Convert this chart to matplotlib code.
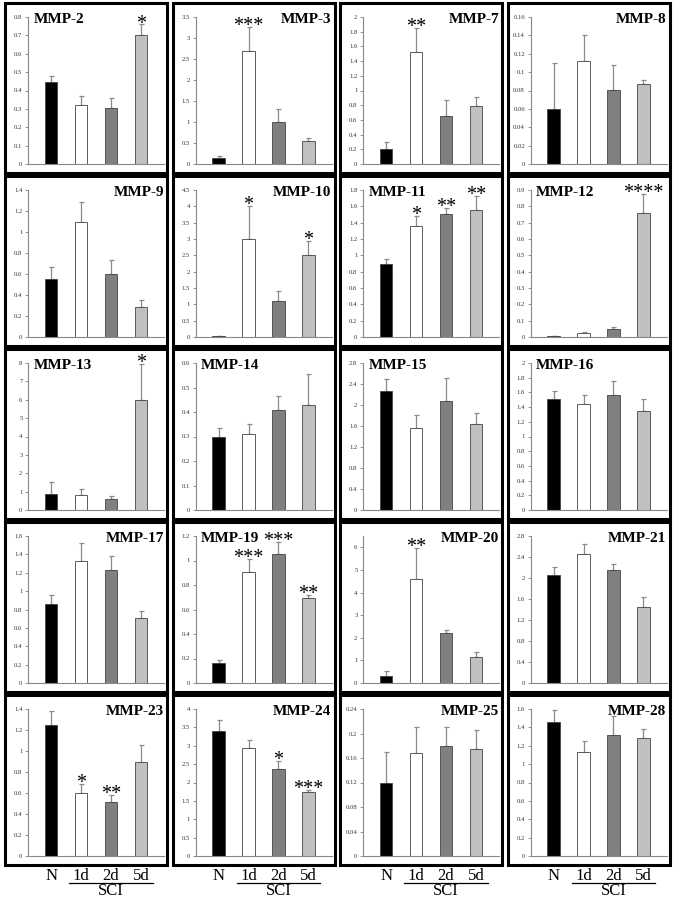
import numpy as np
import matplotlib
matplotlib.use('Agg')
from matplotlib import pyplot as plt
from matplotlib import transforms
from matplotlib.patches import Rectangle
from matplotlib.ticker import MultipleLocator, FuncFormatter

plt.rcParams['font.family'] = ['Liberation Serif', 'DejaVu Serif']

groups = ['N', '1d', '2d', '5d']
bar_colors = ['black', 'white', '#808080', '#c0c0c0']

names = ['MMP-2', 'MMP-3', 'MMP-7', 'MMP-8',
         'MMP-9', 'MMP-10', 'MMP-11', 'MMP-12',
         'MMP-13', 'MMP-14', 'MMP-15', 'MMP-16',
         'MMP-17', 'MMP-19', 'MMP-20', 'MMP-21',
         'MMP-23', 'MMP-24', 'MMP-25', 'MMP-28']

title_left = [True, False, False, False,
              False, False, True, True,
              True, True, True, True,
              False, True, False, False,
              False, False, False, False]

y_max = [0.8, 3.5, 2, 0.16,
         1.4, 4.5, 1.8, 0.9,
         8, 0.6, 2.8, 2,
         1.6, 1.2, 6.5, 2.8,
         1.4, 4, 0.24, 1.6]

y_step = [0.1, 0.5, 0.2, 0.02,
          0.2, 0.5, 0.2, 0.1,
          1, 0.1, 0.4, 0.2,
          0.2, 0.2, 1, 0.4,
          0.2, 0.5, 0.04, 0.2]

means = [[0.445, 0.32, 0.305, 0.70],
         [0.15, 2.70, 1.00, 0.55],
         [0.21, 1.52, 0.65, 0.79],
         [0.060, 0.112, 0.081, 0.087],
         [0.55, 1.10, 0.60, 0.29],
         [0.03, 3.00, 1.10, 2.50],
         [0.90, 1.36, 1.51, 1.56],
         [0.005, 0.025, 0.05, 0.76],
         [0.85, 0.82, 0.58, 6.00],
         [0.30, 0.31, 0.41, 0.43],
         [2.27, 1.56, 2.08, 1.64],
         [1.51, 1.44, 1.56, 1.35],
         [0.86, 1.33, 1.23, 0.71],
         [0.165, 0.91, 1.05, 0.69],
         [0.32, 4.62, 2.20, 1.17],
         [2.06, 2.46, 2.15, 1.44],
         [1.25, 0.60, 0.515, 0.90],
         [3.40, 2.93, 2.38, 1.73],
         [0.120, 0.168, 0.179, 0.174],
         [1.46, 1.13, 1.32, 1.28]]

errors = [[0.035, 0.05, 0.055, 0.06],
          [0.04, 0.57, 0.32, 0.08],
          [0.09, 0.33, 0.22, 0.12],
          [0.050, 0.028, 0.027, 0.004],
          [0.12, 0.19, 0.13, 0.06],
          [0.01, 1.00, 0.30, 0.45],
          [0.05, 0.12, 0.07, 0.17],
          [0.002, 0.005, 0.013, 0.115],
          [0.70, 0.35, 0.20, 1.95],
          [0.035, 0.04, 0.055, 0.125],
          [0.23, 0.25, 0.44, 0.21],
          [0.11, 0.13, 0.20, 0.16],
          [0.10, 0.19, 0.15, 0.07],
          [0.025, 0.10, 0.10, 0.03],
          [0.20, 1.35, 0.14, 0.18],
          [0.15, 0.19, 0.12, 0.19],
          [0.13, 0.09, 0.07, 0.16],
          [0.30, 0.22, 0.20, 0.06],
          [0.050, 0.043, 0.031, 0.031],
          [0.13, 0.12, 0.20, 0.10]]

stars = [['', '', '', '*'],
         ['', '***', '', ''],
         ['', '**', '', ''],
         ['', '', '', ''],
         ['', '', '', ''],
         ['', '*', '', '*'],
         ['', '*', '**', '**'],
         ['', '', '', '****'],
         ['', '', '', '*'],
         ['', '', '', ''],
         ['', '', '', ''],
         ['', '', '', ''],
         ['', '', '', ''],
         ['', '***', '***', '**'],
         ['', '**', '', ''],
         ['', '', '', ''],
         ['', '*', '**', ''],
         ['', '', '*', '***'],
         ['', '', '', ''],
         ['', '', '', '']]

W, H = 675, 900
fig = plt.figure(figsize=(6.75, 9), dpi=100)

x = np.arange(4)

for k in range(20):
    row, col = k // 4, k % 4
    bx = 5 + col * 167.5
    by = 3 + row * 173
    bw, bh = 162, 170

    # frame around each panel
    fig.add_artist(Rectangle((bx / W, 1 - (by + bh) / H), bw / W, bh / H,
                             transform=fig.transFigure, fill=False,
                             edgecolor='black', lw=2.2))

    ax_l = bx + 23
    ax_r = bx + 159
    ax_t = by + 14
    ax_b = by + 161
    ax = fig.add_axes([ax_l / W, 1 - ax_b / H, (ax_r - ax_l) / W, (ax_b - ax_t) / H])

    ax.bar(x, means[k], width=0.42, color=bar_colors, edgecolor='#444444', lw=0.6, zorder=2)
    ax.errorbar(x, means[k], yerr=[np.zeros(4), errors[k]], fmt='none',
                ecolor='#8a8a8a', elinewidth=0.9, capsize=1.8, capthick=0.9, zorder=1)

    for i in range(4):
        if stars[k][i]:
            ax.annotate(stars[k][i], xy=(x[i], means[k][i] + errors[k][i]),
                        xytext=(0, -3), textcoords='offset points',
                        ha='center', va='baseline', fontsize=14.5)

    ax.set_xlim(-0.77, 3.77)
    ax.set_ylim(0, y_max[k])
    ax.yaxis.set_major_locator(MultipleLocator(y_step[k]))
    ax.yaxis.set_major_formatter(FuncFormatter(lambda v, _: '%g' % round(v, 4)))
    ax.tick_params(axis='y', labelsize=4.8, length=2, width=0.6, color='#888888',
                   labelcolor='#333333', pad=2)
    ax.set_xticks(x)
    if row == 4:
        ax.set_xticklabels(groups, fontsize=12)
        ax.tick_params(axis='x', length=0, pad=9)
    else:
        ax.set_xticklabels([])
        ax.tick_params(axis='x', length=0)

    for s in ['top', 'right']:
        ax.spines[s].set_visible(False)
    for s in ['left', 'bottom']:
        ax.spines[s].set_color('#888888')
        ax.spines[s].set_linewidth(0.8)

    if title_left[k]:
        ax.annotate(names[k], xy=(0.04, 1.0), xycoords='axes fraction',
                    xytext=(0, -4.5), textcoords='offset points',
                    ha='left', va='baseline', fontsize=11, fontweight='bold')
    else:
        ax.annotate(names[k], xy=(1.0, 1.0), xycoords='axes fraction',
                    xytext=(0, -4.5), textcoords='offset points',
                    ha='right', va='baseline', fontsize=11, fontweight='bold')

    if row == 4:
        tr = transforms.blended_transform_factory(ax.transData, fig.transFigure)
        ax.plot([0.6, 3.4], [1 - 883 / H, 1 - 883 / H], color='black', lw=0.9,
                transform=tr, clip_on=False)
        ax.text(2.0, 1 - 891 / H, 'SCI', transform=tr, ha='center', va='center',
                fontsize=12)

fig.savefig('out.png', dpi=100)
